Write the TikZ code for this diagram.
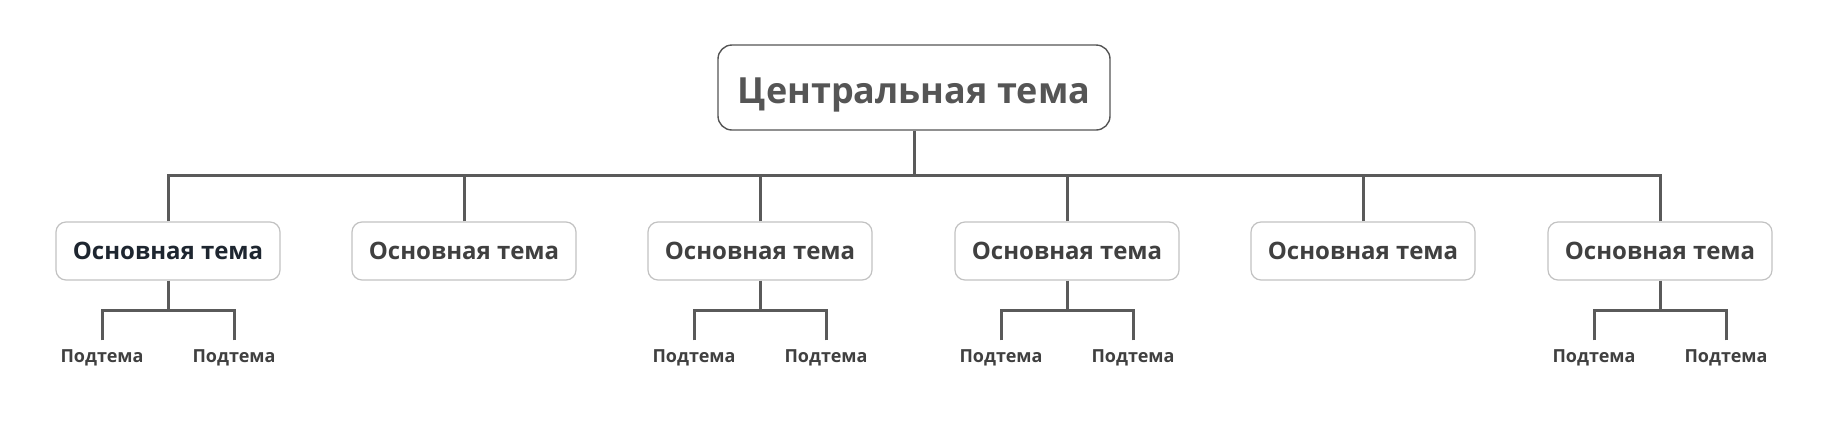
\documentclass[tikz,border=0pt]{standalone}
\usepackage{fontspec}
\setmainfont{Open Sans}
\definecolor{Ink}{HTML}{555555}
\definecolor{Dark}{HTML}{1E2630}
\definecolor{Body}{HTML}{404040}
\definecolor{Wire}{HTML}{5A5A5A}
\definecolor{Frame}{HTML}{C2C2C2}
\tikzset{
  central/.style={draw=Ink,line width=1.4pt,rounded corners=14pt,minimum width=392pt,minimum height=85pt,
    font=\fontsize{36}{40}\selectfont\bfseries,text=Ink,text height=31pt,text depth=0pt},
  maintopic/.style={draw=Frame,line width=1.2pt,rounded corners=10pt,minimum width=224pt,minimum height=58pt,
    font=\fontsize{24}{28}\selectfont\bfseries,fill=white,text height=17pt,text depth=0pt},
  subtopic/.style={font=\fontsize{18}{20}\selectfont\bfseries,text=Body,inner xsep=0pt,inner ysep=9pt,
    text height=13pt,text depth=0pt},
  wire/.style={draw=Wire,line width=3pt}
}
\begin{document}
\begin{tikzpicture}[x=1pt,y=-1pt]
  \useasboundingbox (0,0) rectangle (1829,432);
  \node[central] (root) at (914,87.5) {Центральная тема};
  \coordinate (bus) at (914,175);
  \draw[wire] (root) -- (bus);
  \foreach \i/\x/\c in {1/168/Dark,2/464/Body,3/760/Body,4/1067/Body,5/1363/Body,6/1660/Body} {
    \node[maintopic,text=\c] (m\i) at (\x,251) {Основная тема};
    \draw[wire] (m\i) |- (bus);
  }
  \foreach \i/\x in {1/168,3/760,4/1067,6/1660} {
    \coordinate (j\i) at (\x,310);
    \draw[wire] (m\i) -- (j\i);
    \node[subtopic] (s\i-a) at (\x-66,356) {Подтема};
    \node[subtopic] (s\i-b) at (\x+66,356) {Подтема};
    \draw[wire] (s\i-a) |- (j\i);
    \draw[wire] (s\i-b) |- (j\i);
  }
\end{tikzpicture}
\end{document}
